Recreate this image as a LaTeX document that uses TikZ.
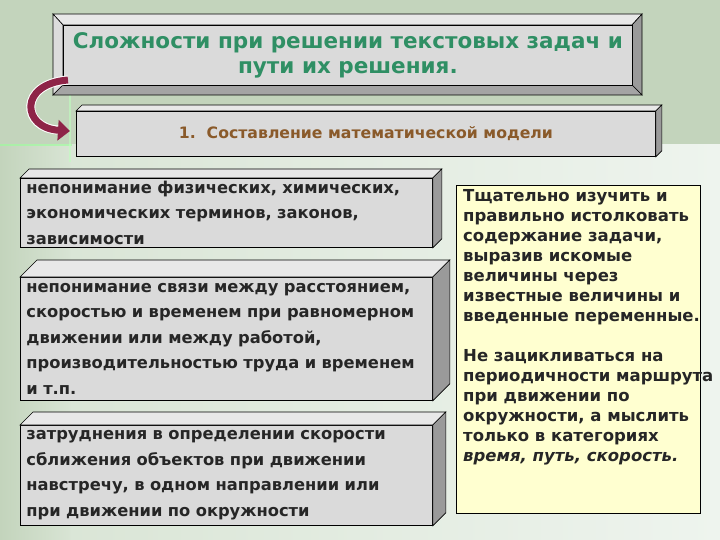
\documentclass[tikz,border=0pt]{standalone}
\usepackage{fontspec}
\setmainfont{DejaVu Sans}
\usetikzlibrary{arrows.meta}
\definecolor{bgA}{HTML}{C3D4BC}
\definecolor{bgB}{HTML}{EEF4EE}
\definecolor{bgC}{HTML}{D8E4D4}
\definecolor{faceC}{HTML}{DADADA}
\definecolor{topC}{HTML}{E8E8E8}
\definecolor{sideC}{HTML}{9A9A9A}
\definecolor{titleC}{HTML}{2F8F64}
\definecolor{brownC}{HTML}{8A5A2A}
\definecolor{noteC}{HTML}{FFFFD0}
\definecolor{arrC}{HTML}{8E2448}
\tikzset{
  face/.style={draw=black, line width=0.8pt, fill=faceC, anchor=north west, inner sep=0pt},
  lefttext/.style={font=\fontsize{16.3}{25.5}\selectfont\bfseries, text=black!85, align=left, text width=400pt},
  bev/.style={draw=black, line width=0.6pt},
}
\newcommand\bevelit[2]{% node name, depth
  \filldraw[fill=topC, bev] (#1.north west) -- ([xshift=#2,yshift=#2]#1.north west) -- ([xshift=#2,yshift=#2]#1.north east) -- (#1.north east) -- cycle;
  \filldraw[fill=sideC, bev] (#1.north east) -- ([xshift=#2,yshift=#2]#1.north east) -- ([xshift=#2,yshift=#2]#1.south east) -- (#1.south east) -- cycle;
}
\begin{document}
\begin{tikzpicture}[x=1pt,y=-1pt]
\useasboundingbox (0,0) rectangle (720,540);
\fill[bgA] (0,0) rectangle (720,145);
\shade[left color=bgC, right color=bgB] (0,145) rectangle (720,540);
\shade[left color=bgA, right color=bgC] (0,145) rectangle (70,540);
% crosshair
\draw[white!60!green, line width=1.5pt, opacity=0.6] (0,145) -- (72,145);
\draw[white!75!green, line width=1.5pt, opacity=0.6] (70,95) -- (70,162);
% title box
\filldraw[fill=topC, bev] (53,14) -- (642,14) -- (632,25) -- (63,25) -- cycle;
\filldraw[fill=topC!95!black, bev] (53,14) -- (63,25) -- (63,85) -- (53,95) -- cycle;
\filldraw[fill=sideC, bev] (642,14) -- (642,95) -- (632,85) -- (632,25) -- cycle;
\filldraw[fill=sideC!90!white, bev] (53,95) -- (642,95) -- (632,85) -- (63,85) -- cycle;
\node[face, minimum width=569pt, minimum height=60pt, text=titleC, align=center,
  font=\fontsize{21.5}{25}\selectfont\bfseries] (title) at (63,25)
  {Сложности при решении текстовых задач и\\пути их решения.};
% box 1
\node[face, minimum width=579pt, minimum height=45pt, text=brownC,
  font=\fontsize{15.7}{18}\selectfont\bfseries] (m) at (76,111) {1.\ \ Составление математической модели};
\bevelit{m}{6}
% left boxes
\node[face, minimum width=404pt, minimum height=69pt, lefttext, inner xsep=6pt] (a) at (20,178)
  {непонимание физических, химических,\\экономических терминов, законов,\\зависимости};
\bevelit{a}{9}
\node[face, minimum width=396pt, minimum height=123pt, lefttext, inner xsep=6pt] (b) at (20,277)
  {непонимание связи между расстоянием,\\скоростью и временем при равномерном\\движении или между работой,\\производительностью труда и временем\\и т.п.};
\bevelit{b}{17}
\node[face, minimum width=400pt, minimum height=100pt, lefttext, inner xsep=6pt] (c) at (20,425)
  {затруднения в определении скорости\\сближения объектов при движении\\навстречу, в одном направлении или\\при движении по окружности};
\bevelit{c}{13}
% right note
\node[draw=black, line width=0.8pt, fill=noteC, anchor=north west, minimum width=244pt, minimum height=328pt,
  inner sep=0pt] (n) at (456,185) {};
\node[anchor=north west, align=left, font=\fontsize{16.5}{20}\selectfont\bfseries, text=black!85,
  inner sep=0pt] (nt) at (463,189)
  {Тщательно изучить и\\правильно истолковать\\содержание задачи,\\выразив искомые\\величины через\\известные величины и\\введенные переменные.\\[20pt]
   Не зацикливаться на\\периодичности маршрута\\при движении по\\окружности, а мыслить\\только в категориях\\\textit{время, путь, скорость.}};
% curved arrow
\coordinate (s) at (68,80);
\coordinate (e) at (70,131);
\draw[white, line width=9pt] (s) .. controls (18,84) and (22,128) .. (58,130);
\draw[arrC, line width=7pt, -{Triangle[length=12pt,width=20pt]}] (s) .. controls (18,84) and (22,128) .. (e);
\end{tikzpicture}
\end{document}
